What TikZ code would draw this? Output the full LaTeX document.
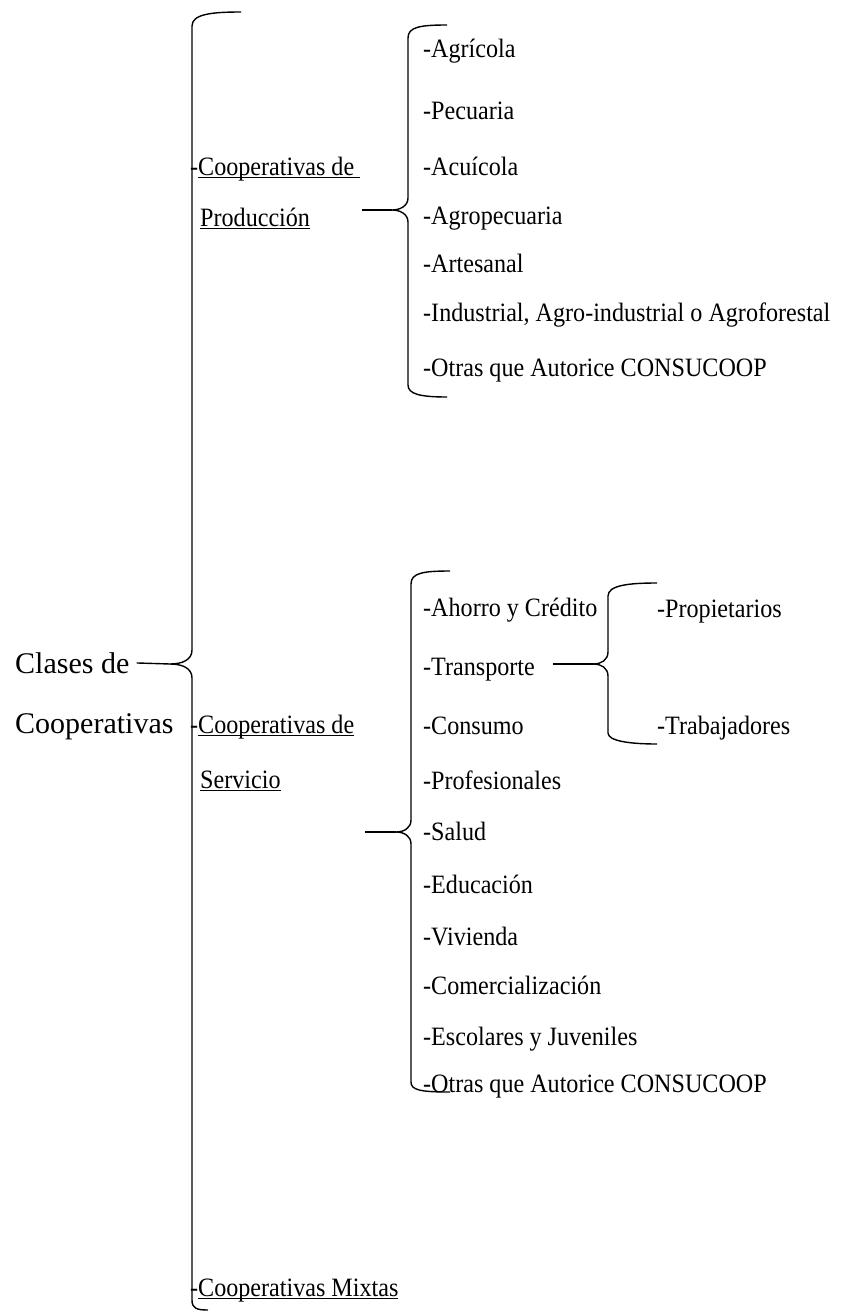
\documentclass[tikz,border=0pt]{standalone}
\usepackage{fontspec}
\setmainfont{Liberation Serif}
\newfontfamily\itemfont[FakeStretch=0.91]{Liberation Serif}
\usetikzlibrary{positioning}

% Underline with a thicker rule
\newcommand{\uln}[1]{\setbox0\hbox{#1}\rlap{\rule[-3pt]{\wd0}{1.3pt}}\box0}

\begin{document}
\begin{tikzpicture}[x=1pt, y=-1pt,
  item/.style={anchor=base west, inner sep=0pt, font=\itemfont\fontsize{26.5}{30}\selectfont},
  root/.style={anchor=base west, inner sep=0pt, font=\fontsize{30}{36}\selectfont},
  brace/.style={line width=1.4pt, line join=round}]

% Manually size the picture
\useasboundingbox (0,0) rectangle (848,1314);

% Root label
\node[root] (rootA) at (15,673) {Clases de};
\node[root] (rootB) at (15,733) {Cooperativas};

% Tips and free ends of the braces
\coordinate (topTip) at (170,664);
\coordinate (prodEnd) at (362,210);
\coordinate (prodTip) at (392,210);
\coordinate (servEnd) at (365,832);
\coordinate (servTip) at (396,832);
\coordinate (transEnd) at (553,664);
\coordinate (transTip) at (594,664);

% Big brace
\draw[brace] (241,12) .. controls (212,12) and (192,14) .. (192,26)
  -- (192,650) .. controls (192,660) and (182,664) .. (topTip)
  .. controls (182,664) and (192,668) .. (192,678)
  -- (192,1300) .. controls (192,1308) and (196,1310) .. (208,1310);
\draw[brace, shorten <=7pt] (rootA.east) -- (topTip);

% First level
\node[item] (prodA) at (190,175) {-\uln{Cooperativas de\ }};
\node[item] (prodB) at (200,226) {\uln{Producción}};
\node[item] (servA) at (190,733) {-\uln{Cooperativas de}};
\node[item] (servB) at (200,788) {\uln{Servicio}};
\node[item] (mixt) at (190,1296) {-\uln{Cooperativas Mixtas}};

% Brace of Produccion
\draw[brace] (447,25) .. controls (420,25) and (408,27) .. (408,38)
  -- (408,198) .. controls (408,206) and (400,210) .. (prodTip)
  .. controls (400,210) and (408,214) .. (408,222)
  -- (408,385) .. controls (408,394) and (420,397) .. (447,397);
\draw[brace] (prodEnd) -- (prodTip);

% Items of Produccion
\node[item] (p1) at (423,58) {-Agrícola};
\node[item] (p2) at (423,119) {-Pecuaria};
\node[item] (p3) at (423,175) {-Acuícola};
\node[item] (p4) at (423,224) {-Agropecuaria};
\node[item] (p5) at (423,272) {-Artesanal};
\node[item] (p6) at (423,321) {-Industrial, Agro-industrial o Agroforestal};
\node[item] (p7) at (423,376) {-Otras que Autorice CONSUCOOP};

% Brace of Servicio
\draw[brace] (450,571) .. controls (423,571) and (411,573) .. (411,584)
  -- (411,820) .. controls (411,828) and (404,832) .. (servTip)
  .. controls (404,832) and (411,836) .. (411,844)
  -- (411,1082) .. controls (411,1090) and (420,1092) .. (450,1092);
\draw[brace] (servEnd) -- (servTip);

% Items of Servicio
\node[item] (s1) at (423,616) {-Ahorro y Crédito};
\node[item] (s2) at (423,675) {-Transporte};
\node[item] (s3) at (423,734) {-Consumo};
\node[item] (s4) at (423,789) {-Profesionales};
\node[item] (s5) at (423,840) {-Salud};
\node[item] (s6) at (423,893) {-Educación};
\node[item] (s7) at (423,945) {-Vivienda};
\node[item] (s8) at (423,994) {-Comercialización};
\node[item] (s9) at (423,1045) {-Escolares y Juveniles};
\node[item] (s10) at (423,1092) {-Otras que Autorice CONSUCOOP};

% Brace of Transporte
\draw[brace] (657,583) .. controls (630,583) and (608,585) .. (608,596)
  -- (608,652) .. controls (608,660) and (601,664) .. (transTip)
  .. controls (601,664) and (608,668) .. (608,676)
  -- (608,733) .. controls (608,741) and (630,744) .. (657,744);
\draw[brace] (transEnd) -- (transTip);

% Items of Transporte
\node[item] (t1) at (657,617) {-Propietarios};
\node[item] (t2) at (657,734) {-Trabajadores};

\end{tikzpicture}
\end{document}
